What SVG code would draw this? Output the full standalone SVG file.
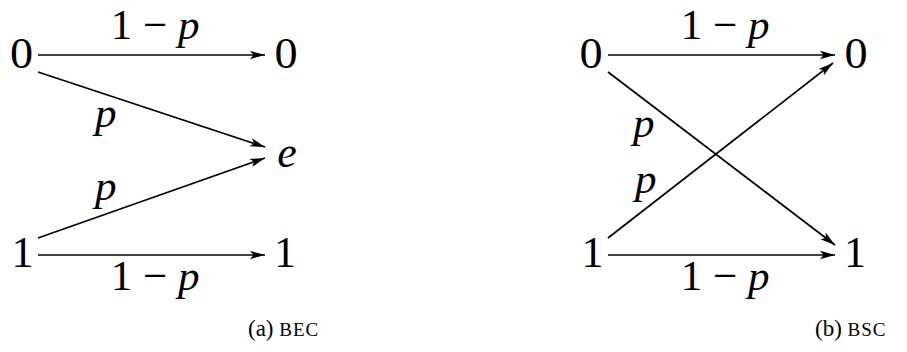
<svg xmlns="http://www.w3.org/2000/svg" width="907" height="352" viewBox="0 0 907 352" font-family="Liberation Serif">
<style>
.edge{stroke:#000;stroke-width:1.7;fill:none;marker-end:url(#arr)}
</style>
<defs>
<marker id="arr" viewBox="0 0 15 10" refX="15" refY="5" markerWidth="15" markerHeight="10" orient="auto" markerUnits="userSpaceOnUse">
<path d="M0,0.8 L15,5 L0,9.2 L3.5,5 Z" fill="#000"/>
</marker>
</defs>
<rect width="907" height="352" fill="#fff"/>
<g id="connectors">
<line class="edge" x1="38" y1="55" x2="265" y2="55"/>
<line class="edge" x1="38" y1="72" x2="265" y2="147"/>
<line class="edge" x1="38" y1="238" x2="265" y2="158"/>
<line class="edge" x1="38" y1="255" x2="265" y2="255"/>
<line class="edge" x1="608" y1="55" x2="835" y2="55"/>
<line class="edge" x1="608" y1="72" x2="835" y2="245"/>
<line class="edge" x1="608" y1="238" x2="833" y2="63"/>
<line class="edge" x1="608" y1="255" x2="835" y2="255"/>
</g>
<g id="edge-labels" font-family="Liberation Serif" font-size="21.5" fill="#000">
<text transform="translate(155,39) scale(2)" text-anchor="middle">1 − <tspan font-style="italic">p</tspan></text>
<text transform="translate(95,127) scale(2)" font-style="italic">p</text>
<text transform="translate(95,200) scale(2)" font-style="italic">p</text>
<text transform="translate(155,290) scale(2)" text-anchor="middle">1 − <tspan font-style="italic">p</tspan></text>
<text transform="translate(725,39) scale(2)" text-anchor="middle">1 − <tspan font-style="italic">p</tspan></text>
<text transform="translate(633,137) scale(2)" font-style="italic">p</text>
<text transform="translate(635,193) scale(2)" font-style="italic">p</text>
<text transform="translate(725,290) scale(2)" text-anchor="middle">1 − <tspan font-style="italic">p</tspan></text>
</g>
<g font-family="Liberation Serif" font-size="22" fill="#000" text-anchor="middle">
<g id="a-x0"><text transform="translate(21.5,68) scale(2.1,2)">0</text></g>
<g id="a-x1"><text transform="translate(22.5,267) scale(2)">1</text></g>
<g id="a-y0"><text transform="translate(286,68) scale(2.1,2)">0</text></g>
<g id="a-ye"><text transform="translate(287,167) scale(2)" font-style="italic">e</text></g>
<g id="a-y1"><text transform="translate(285,267) scale(2)">1</text></g>
<g id="b-x0"><text transform="translate(591,68) scale(2.1,2)">0</text></g>
<g id="b-x1"><text transform="translate(592.5,267) scale(2)">1</text></g>
<g id="b-y0"><text transform="translate(856,68) scale(2.1,2)">0</text></g>
<g id="b-y1"><text transform="translate(855,267) scale(2)">1</text></g>
</g>
<g id="captions" font-family="Liberation Serif" font-size="23" fill="#000">
<text x="248" y="336">(a) <tspan font-size="19" letter-spacing="1">BEC</tspan></text>
<text x="815" y="336">(b) <tspan font-size="19" letter-spacing="1">BSC</tspan></text>
</g>
</svg>
